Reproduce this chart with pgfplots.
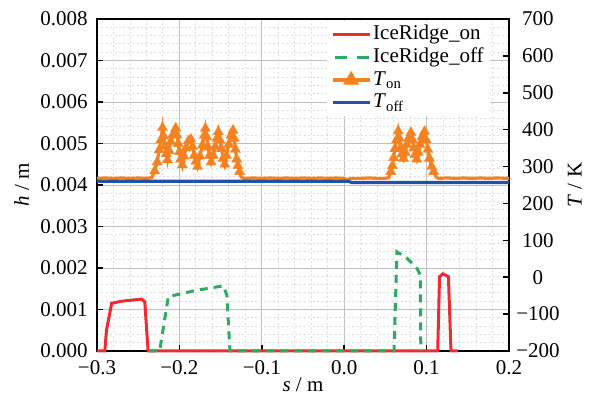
\documentclass[border=0pt]{standalone}
\usepackage{fontspec}
\setmainfont{Liberation Serif}
\usepackage{pgfplots}
\pgfplotsset{compat=1.18}
\usepackage{pgfplotstable}

\definecolor{ridgeOn}{RGB}{236,44,48}
\definecolor{ridgeOff}{RGB}{48,170,98}
\definecolor{tempOn}{RGB}{245,130,32}
\definecolor{tempOff}{RGB}{32,82,168}
\definecolor{gridMajor}{RGB}{192,192,192}
\definecolor{gridMinor}{RGB}{222,222,222}

\newcommand{\lblfont}{\fontsize{10.5}{12}\selectfont}

\pgfplotsset{
  short line legend/.style={legend image code/.code={\draw[##1] (0pt,0pt) -- (18.5pt,0pt);}},
  dash legend/.style={legend image code/.code={\draw[##1,solid] (1pt,0pt) -- (7pt,0pt) (12pt,0pt) -- (18pt,0pt);}},
  tri legend/.style={legend image code/.code={%
      \draw[##1] (0pt,0pt) -- (18.5pt,0pt);
      \fill[tempOn] (9.25pt,3.0pt) -- (6.65pt,-1.5pt) -- (11.85pt,-1.5pt) -- cycle;}},
}

% ice ridge height h (m) along s (m), heating on
\pgfplotstableread{
s h
-0.3000 0
-0.2905 0
-0.2885 0.00050
-0.2822 0.00115
-0.2700 0.00120
-0.2460 0.00125
-0.2420 0.00119
-0.2380 0
0.1135 0
0.1157 0.00179
0.1197 0.00186
0.1265 0.00179
0.1296 0
0.1380 0
}\ridgeon

% ice ridge height h (m), heating off
\pgfplotstableread{
s h
-0.2370 0
-0.2240 0
-0.2134 0.00131
-0.1800 0.00146
-0.1466 0.00157
-0.1425 0.00135
-0.1386 0
0.0605 0
0.0640 0.00239
0.0760 0.00224
0.0883 0.00199
0.0923 0.00183
0.0930 0
}\ridgeoff

% surface temperature T (K), heating on
\pgfplotstableread{
s T
-0.3000 268
-0.2900 269
-0.2800 268
-0.2700 269
-0.2600 268
-0.2500 269
-0.2400 268
-0.2336 270
-0.2300 288
-0.2270 312
-0.2245 345
-0.2225 372
-0.2205 405
-0.2190 382
-0.2175 356
-0.2160 334
-0.2145 318
-0.2125 343
-0.2105 368
-0.2080 386
-0.2045 404
-0.2030 385
-0.2015 362
-0.2000 340
-0.1985 320
-0.1965 304
-0.1945 328
-0.1920 350
-0.1890 370
-0.1860 374
-0.1840 354
-0.1820 330
-0.1800 314
-0.1780 300
-0.1750 328
-0.1720 358
-0.1700 384
-0.1685 403
-0.1670 381
-0.1650 352
-0.1635 330
-0.1615 312
-0.1590 330
-0.1565 354
-0.1545 376
-0.1528 394
-0.1510 372
-0.1490 348
-0.1470 322
-0.1450 306
-0.1430 330
-0.1400 360
-0.1375 384
-0.1350 398
-0.1335 376
-0.1320 346
-0.1305 320
-0.1290 302
-0.1270 286
-0.1250 272
-0.1220 268
-0.1100 269
-0.1000 268
-0.0900 269
-0.0800 268
-0.0700 269
-0.0600 268
-0.0500 269
-0.0400 268
-0.0300 269
-0.0200 268
-0.0100 269
0.0000 268
0.0040 264
0.0080 268
0.0200 268
0.0300 269
0.0400 268
0.0500 268
0.0540 270
0.0565 286
0.0585 302
0.0600 324
0.0615 348
0.0635 372
0.0655 396
0.0670 376
0.0685 352
0.0700 334
0.0720 322
0.0740 338
0.0760 360
0.0785 378
0.0810 392
0.0830 372
0.0845 350
0.0860 332
0.0880 320
0.0900 338
0.0920 360
0.0945 380
0.0975 395
0.0995 372
0.1015 346
0.1035 322
0.1060 300
0.1085 286
0.1115 272
0.1140 268
0.1250 269
0.1350 268
0.1450 269
0.1550 268
0.1650 269
0.1750 268
0.1850 269
0.2000 268
}\temperon

% surface temperature T (K), heating off
\pgfplotstableread{
s T
-0.3000 260
-0.2000 260
-0.1000 260
0.0050 260
0.0090 257
0.1000 257
0.2000 257
}\temperoff

\begin{document}
\begin{tikzpicture}
\path[use as bounding box] (-48.5pt,-22pt) rectangle (248pt,175.5pt);

% left axis: ice ridge height
\begin{axis}[
  at={(0,0)}, anchor=south west,
  scale only axis, width=206pt, height=166pt,
  clip=false,
  xmin=-0.3, xmax=0.2, ymin=0, ymax=0.008,
  xtick={-0.3,-0.2,-0.1,0,0.1,0.2},
  xticklabels={−0.3,−0.2,−0.1,0.0,0.1,0.2},
  ytick={0,0.001,0.002,0.003,0.004,0.005,0.006,0.007,0.008},
  yticklabels={0.000,0.001,0.002,0.003,0.004,0.005,0.006,0.007,0.008},
  scaled ticks=false,
  minor x tick num=4, minor y tick num=4,
  grid=both,
  major grid style={gridMajor, line width=0.5pt},
  minor grid style={gridMinor, dash pattern=on 1pt off 1.2pt, line width=0.45pt},
  tick pos=left, tick align=inside,
  major tick length=3.2pt, minor tick length=0pt,
  tick style={black, line width=0.8pt},
  axis line style={line width=0.9pt},
  tick label style={font=\lblfont},
  xticklabel style={yshift=-1pt},
  yticklabel style={xshift=-1.2pt},
  label style={font=\lblfont},
  xlabel={\textit{s} / m},
  ylabel={\textit{h} / m},
  xlabel style={at={(axis description cs:0.5,-0.102)}, anchor=center},
  ylabel style={at={(axis description cs:-0.183,0.5)}, anchor=center},
]
\addplot[ridgeOn, line width=1.5pt] table[x=s, y=h] {\ridgeon};
\addplot[ridgeOff, line width=1.5pt, dash pattern=on 4pt off 3pt] table[x=s, y=h] {\ridgeoff};
\end{axis}

% right axis: temperature
\begin{axis}[
  at={(0,0)}, anchor=south west,
  scale only axis, width=206pt, height=166pt,
  clip=false,
  xmin=-0.3, xmax=0.2, ymin=-200, ymax=700,
  axis x line=none, axis y line*=right,
  axis line style={line width=0.9pt, -},
  ytick={-200,-100,0,100,200,300,400,500,600,700},
  yticklabels={−200,−100,0,100,200,300,400,500,600,700},
  tick align=inside,
  major tick length=3.2pt, minor tick length=0pt,
  tick style={black, line width=0.8pt},
  tick label style={font=\lblfont},
  yticklabel style={anchor=center, xshift=14.5pt},
  label style={font=\lblfont},
  ylabel={\textit{T} / K},
  ylabel style={at={(axis description cs:1.160,0.5)}, anchor=center, rotate=0},
  legend style={at={(rel axis cs:0.954,0.995)}, anchor=north east,
    draw=none, fill=white, inner xsep=2pt, inner ysep=1pt,
    font=\lblfont, row sep=0pt,
    nodes={inner sep=1pt, text height=7.2pt, text depth=2.2pt}},
  legend cell align=left,
]
\addlegendimage{ridgeOn, line width=1.5pt, short line legend}
\addlegendentry{IceRidge\_on}
\addlegendimage{ridgeOff, line width=1.5pt, dash legend}
\addlegendentry{IceRidge\_off}
\addplot[tempOn, line width=1.6pt, tri legend] table[x=s, y=T] {\temperon};
\addlegendentry{\textit{T}\textsubscript{on}}
\addplot[tempOn, only marks, mark=triangle*, mark size=2.9pt,
  mark options={fill=tempOn, draw=tempOn, line width=0.2pt},
  restrict y to domain=276:1000, forget plot] table[x=s, y=T] {\temperon};
\addplot[tempOff, line width=1.6pt, short line legend] table[x=s, y=T] {\temperoff};
\addlegendentry{\textit{T}\textsubscript{off}}
\end{axis}
\end{tikzpicture}
\end{document}
